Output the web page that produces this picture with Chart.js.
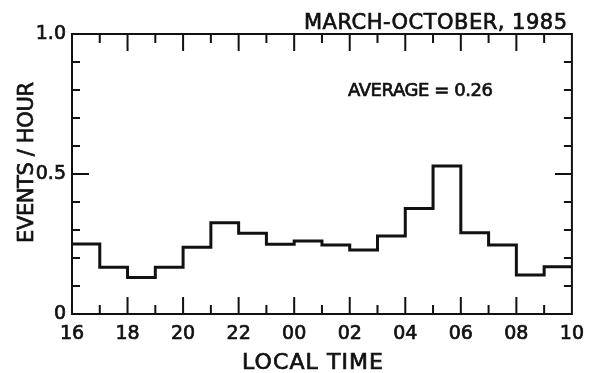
<!DOCTYPE html>
<html>
<head>
<meta charset="utf-8">
<script src="https://cdn.jsdelivr.net/npm/chart.js@4.4.0/dist/chart.umd.min.js"></script>
<style>
  html, body { margin: 0; padding: 0; background: #fff; }
  #wrap { width: 593px; height: 373px; }
</style>
</head>
<body>
<div id="wrap"><canvas id="chart"></canvas></div>
<script>
// bin edges in local time (hour index 0..18 -> 16h .. 10h)
const hourLabels = ['16','17','18','19','20','21','22','23','00','01','02','03','04','05','06','07','08','09','10'];
// events per hour, one value per 1-hour bin starting at 16h
const rates = [0.25, 0.167, 0.13, 0.167, 0.238, 0.326, 0.288, 0.249, 0.261, 0.246, 0.229, 0.279, 0.377, 0.529, 0.29, 0.246, 0.139, 0.169];
const yTickText = { 0: '0', 0.5: '0.5', 1: '1.0' };

const titleText = 'MARCH-OCTOBER, 1985';
const noteText = 'AVERAGE = 0.26';
const xTitle = 'LOCAL TIME';
const yTitle = 'EVENTS / HOUR';

const font = '"DejaVu Sans", sans-serif';
const ink = '#111';

// step points: each bin value at its left edge, last value repeated at the right edge
const points = rates.map((v, i) => ({ x: i, y: v }));
points.push({ x: rates.length, y: rates[rates.length - 1] });

// draw text left-aligned from x0, spread so it spans exactly `width`
function spreadText(ctx, text, x0, y, width) {
  ctx.letterSpacing = '0px';
  const w = ctx.measureText(text).width;
  const ls = (width - w) / (text.length - 1);
  ctx.letterSpacing = ls + 'px';
  ctx.textAlign = 'left';
  ctx.fillText(text, x0, y);
  ctx.strokeText(text, x0, y);
  ctx.letterSpacing = '0px';
}

const frame = {
  id: 'frame',
  afterDatasetsDraw(chart) {
    const { ctx, chartArea: a, scales } = chart;
    ctx.save();
    ctx.strokeStyle = ink;
    ctx.lineWidth = 2;
    ctx.strokeRect(a.left, a.top, a.right - a.left, a.bottom - a.top);
    ctx.beginPath();
    for (let h = 1; h < hourLabels.length - 1; h++) {
      const x = scales.x.getPixelForValue(h);
      const len = h % 2 === 0 ? 17 : 9;
      ctx.moveTo(x, a.bottom); ctx.lineTo(x, a.bottom - len);
      ctx.moveTo(x, a.top); ctx.lineTo(x, a.top + len);
    }
    for (let k = 1; k < 10; k++) {
      const y = scales.y.getPixelForValue(k / 10);
      const len = k === 5 ? 17 : 8;
      ctx.moveTo(a.left, y); ctx.lineTo(a.left + len, y);
      ctx.moveTo(a.right, y); ctx.lineTo(a.right - len, y);
    }
    ctx.stroke();
    ctx.restore();
  },
  afterDraw(chart) {
    const { ctx } = chart;
    ctx.save();
    ctx.fillStyle = ink;
    ctx.strokeStyle = ink;
    ctx.lineWidth = 0.7;
    ctx.textBaseline = 'alphabetic';
    ctx.font = '21px ' + font;
    spreadText(ctx, titleText, 304, 29, 263);
    ctx.font = '18px ' + font;
    spreadText(ctx, noteText, 348, 96, 145);
    ctx.font = '22px ' + font;
    spreadText(ctx, xTitle, 242, 369, 141);
    ctx.translate(33, 243);
    ctx.rotate(-Math.PI / 2);
    ctx.font = '21px ' + font;
    spreadText(ctx, yTitle, 0, 0, 161);
    ctx.restore();
  }
};

const tickStyle = {
  color: ink,
  textStrokeColor: ink,
  textStrokeWidth: 0.7,
  font: { family: font, size: 19 }
};

new Chart(document.getElementById('chart'), {
  type: 'line',
  data: {
    datasets: [{
      data: points,
      stepped: 'before',
      borderColor: ink,
      borderWidth: 3,
      pointRadius: 0,
      fill: false
    }]
  },
  options: {
    responsive: true,
    maintainAspectRatio: false,
    animation: false,
    layout: { padding: { top: 34, right: 20, left: 0, bottom: 0 } },
    plugins: { legend: { display: false }, tooltip: { enabled: false } },
    scales: {
      x: {
        type: 'linear',
        min: 0,
        max: 18,
        grid: { display: false, drawTicks: false },
        border: { display: false },
        ticks: Object.assign({
          stepSize: 2,
          padding: 9,
          maxRotation: 0,
          callback: v => hourLabels[v]
        }, tickStyle),
        afterFit: s => { s.height = 59; }
      },
      y: {
        min: 0,
        max: 1,
        grid: { display: false, drawTicks: false },
        border: { display: false },
        ticks: Object.assign({
          stepSize: 0.5,
          padding: 6,
          callback: v => yTickText[v]
        }, tickStyle),
        afterFit: s => { s.width = 72; }
      }
    }
  },
  plugins: [frame]
});
</script>
</body>
</html>
